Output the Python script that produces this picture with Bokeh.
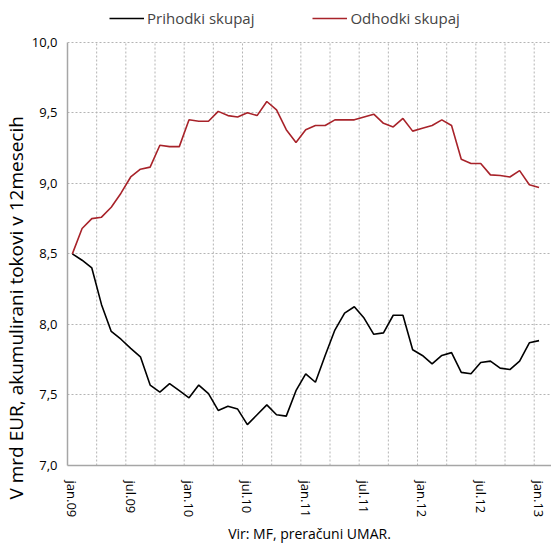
from bokeh.plotting import figure
from bokeh.models import (Range1d, FixedTicker, CustomJSTickFormatter, Legend, LegendItem, Title)
from bokeh.embed import file_html
from bokeh.resources import INLINE

# ---- data (monthly, jan.09 .. jan.13) ----
prihodki = [8.50, 8.455, 8.40, 8.14, 7.95, 7.895, 7.83, 7.77, 7.57, 7.52,
            7.58, 7.53, 7.48, 7.57, 7.51, 7.39, 7.42, 7.40, 7.29, 7.36,
            7.43, 7.36, 7.35, 7.53, 7.65, 7.59, 7.78, 7.96, 8.08, 8.125,
            8.045, 7.93, 7.94, 8.065, 8.065, 7.82, 7.78, 7.72, 7.78, 7.80,
            7.66, 7.65, 7.73, 7.74, 7.69, 7.68, 7.74, 7.87, 7.885]
odhodki = [8.50, 8.68, 8.75, 8.76, 8.83, 8.93, 9.045, 9.10, 9.115, 9.27,
           9.26, 9.26, 9.45, 9.44, 9.44, 9.51, 9.48, 9.47, 9.50, 9.48,
           9.58, 9.52, 9.38, 9.29, 9.38, 9.41, 9.41, 9.45, 9.45, 9.45,
           9.47, 9.49, 9.425, 9.40, 9.46, 9.37, 9.39, 9.41, 9.45, 9.41,
           9.17, 9.14, 9.14, 9.06, 9.055, 9.045, 9.09, 8.99, 8.97]
tick_positions = [0, 6, 12, 18, 24, 30, 36, 42, 48]
tick_labels = ["jan.09", "jul.09", "jan.10", "jul.10", "jan.11",
               "jul.11", "jan.12", "jul.12", "jan.13"]
y_ticks = [7.0, 7.5, 8.0, 8.5, 9.0, 9.5, 10.0]
y_min, y_max = 7.0, 10.0
y_title = "V mrd EUR, akumulirani tokovi v 12mesecih"
x_title = "Vir: MF, preračuni UMAR."

x = list(range(len(prihodki)))
FONT = "Open Sans"

# frame spans whole top so that the legend can sit above the 10,0 line
FRAME_H = 468
PLOT_H = 426  # pixels between 7,0 and 10,0
y_top = y_max + (FRAME_H - PLOT_H) * (y_max - y_min) / PLOT_H

p = figure(width=551, height=546, output_backend="svg", toolbar_location=None,
           x_range=Range1d(-0.5, 49.28), y_range=Range1d(y_min, y_top),
           min_border_left=62, min_border_right=0, min_border_top=0,
           min_border_bottom=78)
p.outline_line_color = None
p.background_fill_color = "white"

# vertical dotted gridlines (between categories, every 3 months), limited to 7..10
grid_x = [k - 0.5 for k in range(3, 49, 3)]
p.segment(x0=grid_x, y0=[y_min] * len(grid_x), x1=grid_x, y1=[y_max] * len(grid_x),
          line_color="#b4b4b4", line_dash="2 2", line_width=1)

r1 = p.line(x, prihodki, line_color="black", line_width=1.6)
r2 = p.line(x, odhodki, line_color="#A8232A", line_width=1.6)

# axes
p.xaxis.ticker = FixedTicker(ticks=tick_positions)
p.xaxis.formatter = CustomJSTickFormatter(args=dict(pos=tick_positions, labs=tick_labels),
                                          code="const i = pos.indexOf(Math.round(tick)); return i >= 0 ? labs[i] : '';")
p.xaxis.major_label_orientation = "vertical"
p.yaxis.ticker = FixedTicker(ticks=y_ticks)
p.yaxis.bounds = (y_min, y_max)
p.yaxis.formatter = CustomJSTickFormatter(code="return tick.toFixed(1).replace('.', ',');")

for ax in (p.xaxis[0], p.yaxis[0]):
    ax.axis_line_color = "#a6a6a6"
    ax.axis_line_width = 1.5
    ax.major_tick_line_color = None
    ax.minor_tick_line_color = None
    ax.major_label_text_font = FONT
    ax.major_label_text_font_size = "13px"
    ax.major_label_text_color = "black"
    ax.axis_label_text_font = FONT
    ax.axis_label_text_font_size = "14px"
    ax.axis_label_text_font_style = "normal"
    ax.axis_label_text_color = "black"

p.xaxis.major_label_standoff = 9
p.yaxis.major_label_standoff = 4
p.xaxis.axis_label = x_title
p.xaxis.axis_label_standoff = 4

# y title on the left, starting a little below the 7,0 line (as in the source)
p.add_layout(Title(text=y_title, align="left", offset=-34, standoff=0,
                   text_font=FONT, text_font_size="19px", text_font_style="normal",
                   text_color="black"), "left")

# grids
p.xgrid.visible = False
p.ygrid.ticker = FixedTicker(ticks=[7.5, 8.0, 8.5, 9.0, 9.5, 10.0])
p.ygrid.grid_line_color = "#b4b4b4"
p.ygrid.grid_line_dash = "2 2"
p.ygrid.grid_line_width = 1

legend = Legend(items=[LegendItem(label="Prihodki skupaj", renderers=[r1]),
                       LegendItem(label="Odhodki skupaj", renderers=[r2])],
                orientation="horizontal", location=(42, FRAME_H - 31),
                glyph_width=35, glyph_height=20, label_standoff=3, spacing=58,
                padding=0, margin=0, border_line_color=None,
                background_fill_alpha=0,
                label_text_font=FONT, label_text_font_size="15px",
                label_text_baseline="middle")
p.add_layout(legend, "center")

open("out.html", "w").write(file_html(p, INLINE))
